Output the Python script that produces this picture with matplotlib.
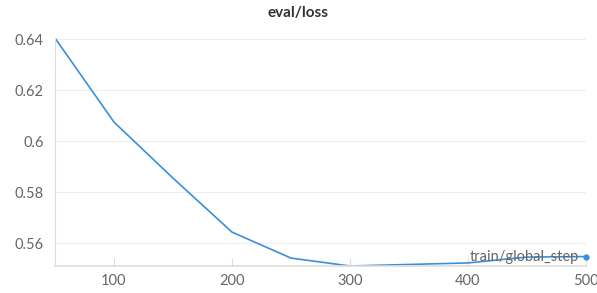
import matplotlib
matplotlib.use("Agg")
import matplotlib.pyplot as plt

steps = [50, 100, 150, 200, 250, 300, 350, 400, 450, 500]
loss = [0.6405, 0.6075, 0.5855, 0.5643, 0.5541, 0.5510, 0.5516, 0.5522, 0.5545, 0.5547]
xticks = [100, 200, 300, 400, 500]
yticks = [0.56, 0.58, 0.60, 0.62, 0.64]
yticklabels = ["0.56", "0.58", "0.6", "0.62", "0.64"]

plt.rcParams['font.family'] = ['Lato', 'DejaVu Sans']
fig = plt.figure(figsize=(5.97, 2.93), dpi=100)
ax = fig.add_axes([0.0921, 0.0922, 0.8895, 0.778])
color = '#3a8fdc'
ax.plot(steps, loss, color=color, lw=1.2)
ax.plot([steps[-1]], [loss[-1]], 'o', color=color, ms=3.5, clip_on=False)
ax.set_xlim(50, 500)
ax.set_ylim(0.551, 0.6405)
ax.set_xticks(xticks)
ax.set_yticks(yticks)
ax.set_yticklabels(yticklabels)
ax.grid(axis='y', color='#eeeeee', lw=0.8)
ax.set_axisbelow(True)
for s in ['top', 'right']:
    ax.spines[s].set_visible(False)
ax.spines['left'].set_color('#dddddd')
ax.spines['bottom'].set_color('#dddddd')
ax.spines['bottom'].set_linewidth(1.2)
ax.tick_params(axis='x', direction='in', length=6, color='#dddddd', labelcolor='#666666', labelsize=10.5, pad=6)
ax.tick_params(axis='y', length=0, labelcolor='#666666', labelsize=10.5, pad=8)
fig.text(0.5, 0.955, 'eval/loss', ha='center', va='center', fontsize=11, fontweight='bold', color='#333333')
ax.text(0.986, 0.04, 'train/global_step', transform=ax.transAxes, ha='right', va='center',
        fontsize=10.5, color='#666666')
fig.savefig('out.png', dpi=100)
